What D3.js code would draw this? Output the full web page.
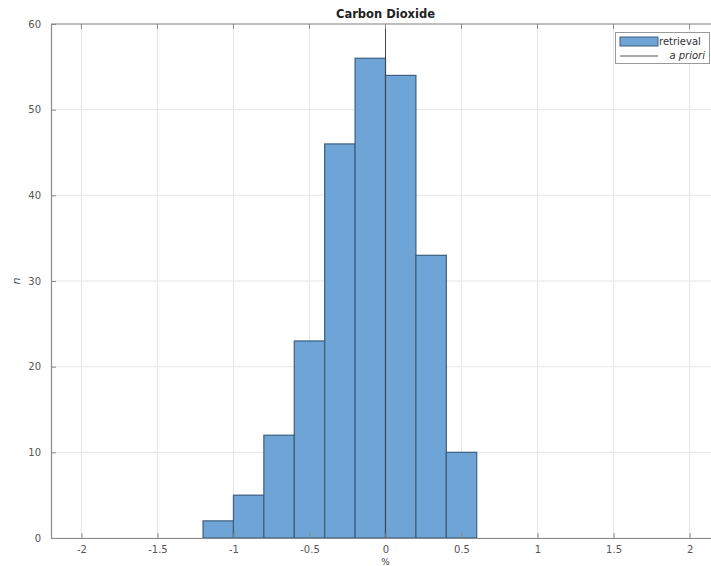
<!DOCTYPE html>
<html><head><meta charset="utf-8">
<script src="https://cdn.jsdelivr.net/npm/d3@7"></script>
<style>body{margin:0;background:#fff}svg{display:block}</style>
</head><body>
<svg id="c" width="711" height="566"></svg>
<script>
const binEdges = [-1.2, -1.0, -0.8, -0.6, -0.4, -0.2, 0.0, 0.2, 0.4, 0.6];
const counts = [2, 5, 12, 23, 46, 56, 54, 33, 10];
const xTicks = [-2, -1.5, -1, -0.5, 0, 0.5, 1, 1.5, 2];
const yTicks = [0, 10, 20, 30, 40, 50, 60];
const aPriori = 0;

const svg = d3.select("#c");
const L = 51, R = 720, T = 24, B = 538;
const x = d3.scaleLinear().domain([-2.2, 2.2]).range([L, R]);
const y = d3.scaleLinear().domain([0, 60]).range([B, T]);
const font = "'DejaVu Sans', sans-serif";

// grid
svg.append("g").selectAll("line.gx").data(xTicks).join("line")
  .attr("x1", d => x(d)).attr("x2", d => x(d)).attr("y1", T).attr("y2", B)
  .attr("stroke", "#e6e6e6").attr("stroke-width", 1);
svg.append("g").selectAll("line.gy").data(yTicks).join("line")
  .attr("x1", L).attr("x2", R).attr("y1", d => y(d)).attr("y2", d => y(d))
  .attr("stroke", "#e6e6e6").attr("stroke-width", 1);

// bars
const bins = counts.map((c, i) => ({x0: binEdges[i], x1: binEdges[i + 1], n: c}));
svg.append("g").selectAll("rect").data(bins).join("rect")
  .attr("x", d => x(d.x0)).attr("width", d => x(d.x1) - x(d.x0))
  .attr("y", d => y(d.n)).attr("height", d => y(0) - y(d.n))
  .attr("fill", "#6fa5d6").attr("stroke", "#3a5f80").attr("stroke-width", 1.2);

// a priori line
svg.append("line").attr("x1", x(aPriori)).attr("x2", x(aPriori))
  .attr("y1", T).attr("y2", B).attr("stroke", "#444").attr("stroke-width", 1);

// axes
const xAxis = d3.axisBottom(x).tickValues(xTicks).tickSizeInner(-5).tickSizeOuter(0)
  .tickPadding(8).tickFormat(d3.format("~g"));
const gx = svg.append("g").attr("transform", `translate(0,${B})`).call(xAxis);
const yAxis = d3.axisLeft(y).tickValues(yTicks).tickSizeInner(-5).tickSizeOuter(0)
  .tickPadding(10);
const gy = svg.append("g").attr("transform", `translate(${L},0)`).call(yAxis);
[gx, gy].forEach(g => {
  g.selectAll("path").attr("stroke", "#8a8a8a").attr("stroke-width", 1.2);
  g.selectAll("line").attr("stroke", "#8a8a8a");
  g.selectAll("text").attr("fill", "#555").style("font-family", font).style("font-size", "10px");
});
gx.selectAll("text").text(d => d3.format("~g")(d).replace("−", "-"));
// top box line
svg.append("line").attr("x1", L).attr("x2", R).attr("y1", T).attr("y2", T)
  .attr("stroke", "#8a8a8a").attr("stroke-width", 1.2);
svg.append("g").selectAll("line").data(xTicks).join("line")
  .attr("x1", d => x(d)).attr("x2", d => x(d)).attr("y1", T).attr("y2", T + 5)
  .attr("stroke", "#8a8a8a");

// title
svg.append("text").attr("x", x(0)).attr("y", 18).attr("text-anchor", "middle")
  .style("font-family", font).style("font-size", "11.5px").style("font-weight", "bold")
  .attr("fill", "#222").text("Carbon Dioxide");

// labels
svg.append("text").attr("transform", `translate(20,${(T + B) / 2}) rotate(-90)`)
  .attr("text-anchor", "middle").style("font-family", font).style("font-size", "11px")
  .style("font-style", "italic").attr("fill", "#444").text("n");
svg.append("text").attr("x", x(0)).attr("y", 565).attr("text-anchor", "middle")
  .style("font-family", font).style("font-size", "9px").attr("fill", "#444").text("%");

// legend
const lg = svg.append("g");
lg.append("rect").attr("x", 615.5).attr("y", 32.5).attr("width", 94).attr("height", 31)
  .attr("fill", "#fff").attr("stroke", "#9a9a9a");
lg.append("rect").attr("x", 620).attr("y", 37).attr("width", 38).attr("height", 9)
  .attr("fill", "#6fa5d6").attr("stroke", "#3a5f80");
lg.append("text").attr("x", 659).attr("y", 45).style("font-family", font).style("font-size", "10px")
  .attr("fill", "#333").text("retrieval");
lg.append("line").attr("x1", 620).attr("x2", 658).attr("y1", 56).attr("y2", 56)
  .attr("stroke", "#555");
lg.append("text").attr("x", 705).attr("y", 59).attr("text-anchor", "end")
  .style("font-family", font).style("font-size", "10px").style("font-style", "italic")
  .attr("fill", "#333").text("a priori");
</script>
</body></html>
